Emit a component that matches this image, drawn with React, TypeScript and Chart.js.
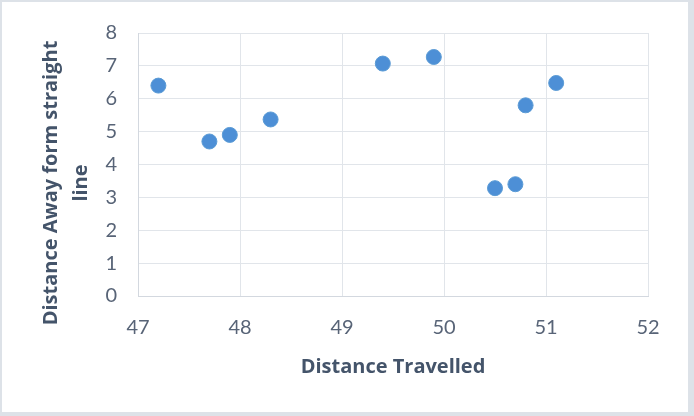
import React, { useEffect, useRef } from "react";
import { Chart, registerables } from "chart.js";

Chart.register(...registerables);

const xValues: number[] = [47.2, 47.7, 47.9, 48.3, 49.4, 49.9, 50.5, 50.7, 50.8, 51.1];
const yValues: number[] = [6.4, 4.7, 4.9, 5.37, 7.07, 7.27, 3.28, 3.4, 5.8, 6.48];
const xTitle = "Distance Travelled";
const yTitleLines: string[] = ["Distance Away form straight", "line"];

const FONT = "Lato, 'Open Sans', sans-serif";
const TITLE_FONT = "'Open Sans', Lato, sans-serif";

export default function App() {
  const ref = useRef<HTMLCanvasElement | null>(null);

  useEffect(() => {
    document.body.style.margin = "0";
    const canvas = ref.current;
    if (!canvas) return;
    const points = xValues.map((x, i) => ({ x, y: yValues[i] }));

    const yTitlePlugin = {
      id: "yTitlePlugin",
      afterDraw(chart: any) {
        const ctx = chart.ctx;
        ctx.save();
        ctx.fillStyle = "#44546a";
        ctx.font = `bold 20px ${TITLE_FONT}`;
        ctx.textAlign = "center";
        ctx.textBaseline = "alphabetic";
        ctx.translate(57, 183);
        ctx.rotate(-Math.PI / 2);
        yTitleLines.forEach((line, i) => ctx.fillText(line, 0, i * 30));
        ctx.restore();
      },
    };

    const chart = new Chart(canvas, {
      type: "scatter",
      data: {
        datasets: [
          {
            data: points,
            backgroundColor: "#4d8fd6",
            borderColor: "#5b9bd5",
            borderWidth: 1,
            pointRadius: 7.5,
          },
        ],
      },
      options: {
        responsive: false,
        animation: false,
        layout: { padding: { top: 28, right: 46, bottom: 0, left: 0 } },
        plugins: { legend: { display: false }, tooltip: { enabled: false } },
        scales: {
          x: {
            type: "linear",
            min: 47,
            max: 52,
            afterFit: (s: any) => {
              s.height = 120;
            },
            ticks: {
              stepSize: 1,
              padding: 20,
              color: "#586477",
              font: { family: FONT, size: 20 },
            },
            grid: { color: "#e1e5ea", drawTicks: false, lineWidth: 1 },
            border: { color: "#d3d8df", width: 1 },
            title: {
              display: true,
              text: xTitle,
              color: "#44546a",
              font: { family: TITLE_FONT, size: 20, weight: "bold" },
              padding: { top: 0, bottom: 37 },
            },
          },
          y: {
            type: "linear",
            min: 0,
            max: 8,
            afterFit: (s: any) => {
              s.width = 138;
            },
            ticks: {
              stepSize: 1,
              padding: 21,
              color: "#586477",
              font: { family: FONT, size: 20 },
            },
            grid: { color: "#e1e5ea", drawTicks: false, lineWidth: 1 },
            border: { color: "#d3d8df", width: 1 },
          },
        },
      },
      plugins: [yTitlePlugin],
    } as any);

    return () => chart.destroy();
  }, []);

  return (
    <div
      style={{
        position: "relative",
        width: 694,
        height: 416,
        background: "#dde2e8",
        overflow: "hidden",
      }}
    >
      <div
        style={{
          position: "absolute",
          left: 2,
          top: 2,
          width: 686,
          height: 410,
          background: "#ffffff",
        }}
      />
      <canvas
        ref={ref}
        width={694}
        height={416}
        style={{ position: "absolute", left: 0, top: 0, width: 694, height: 416 }}
      />
    </div>
  );
}
